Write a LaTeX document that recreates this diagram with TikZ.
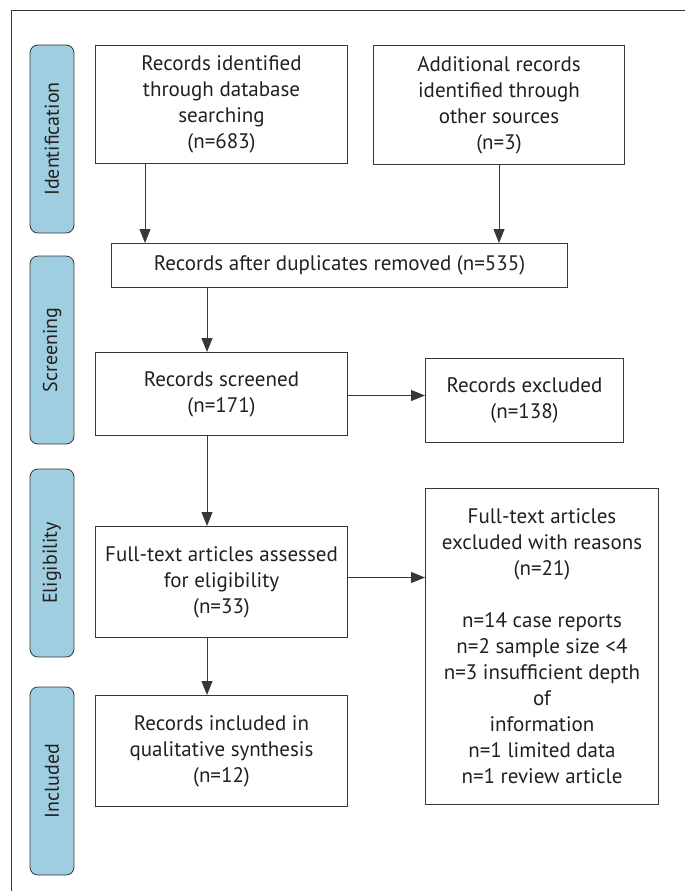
\documentclass[tikz,border=0pt]{standalone}
\usepackage{fontspec}
\setmainfont{PT Sans}
\usetikzlibrary{arrows.meta}
\definecolor{phaseblue}{RGB}{158,206,224}
\definecolor{ink}{RGB}{35,31,32}
\definecolor{edge}{RGB}{55,55,55}

\begin{document}
\begin{tikzpicture}[x=1pt,y=-1pt,
  font=\fontsize{21}{26}\selectfont,text=ink,
  box/.style={draw=edge,line width=1pt,align=center,inner sep=0pt,anchor=north west},
  phase/.style={draw=edge,fill=phaseblue,rounded corners=8pt,line width=0.8pt,rotate=90,inner sep=0pt,minimum height=44pt,font=\fontsize{20}{26}\selectfont},
  flow/.style={draw=edge,line width=1pt,-{Triangle[length=14pt,width=11pt]}}]
\useasboundingbox (0,0) rectangle (685,891);
% frame
\draw[edge,line width=1pt] (11,891) -- (11,11) -- (685,11);
% phases
\node[phase,minimum width=188pt] (pident) at (52,139) {Identification};
\node[phase,minimum width=188pt] (pscreen) at (52,350) {Screening};
\node[phase,minimum width=188pt] (pelig) at (52,563) {Eligibility};
\node[phase,minimum width=188pt] (pincl) at (52,781) {Included};
% boxes
\node[box,minimum width=252pt,minimum height=118pt] (recdb) at (95,45) {Records identified\\through database\\searching\\(n=683)};
\node[box,minimum width=251pt,minimum height=119pt] (recother) at (373,45) {Additional records\\identified through\\other sources\\(n=3)};
\node[box,minimum width=456pt,minimum height=44pt] (dedup) at (111,243) {Records after duplicates removed (n=535)};
\node[box,minimum width=252pt,minimum height=83pt] (screened) at (95,352) {Records screened\\(n=171)};
\node[box,minimum width=198pt,minimum height=84pt] (excluded) at (425,358) {Records excluded\\(n=138)};
\node[box,minimum width=252pt,minimum height=111pt] (fulltext) at (95,526) {Full-text articles assessed\\for eligibility\\(n=33)};
\node[box,minimum width=233pt,minimum height=316pt] (ftexcl) at (425,488) {Full-text articles\\excluded with reasons\\(n=21)\\[26pt]n=14 case reports\\n=2 sample size <4\\n=3 insufficient depth\\of\\information\\n=1 limited data\\n=1 review article};
\node[box,minimum width=252pt,minimum height=111pt] (included) at (95,695) {Records included in\\qualitative synthesis\\(n=12)};
% arrows
\coordinate (leftdrop) at (145,0);
\coordinate (spine) at (207,0);
\draw[flow] (recdb.south -| leftdrop) -- (dedup.north -| leftdrop);
\draw[flow] (recother.south) -- (recother.south |- dedup.north);
\draw[flow] (dedup.south -| spine) -- (screened.north -| spine);
\draw[flow] ([yshift=-1.5pt]screened.east) -- ([yshift=-1.5pt]screened.east -| excluded.west);
\draw[flow] (screened.south -| spine) -- (fulltext.north -| spine);
\draw[flow] ([yshift=4.5pt]fulltext.east) -- ([yshift=4.5pt]fulltext.east -| ftexcl.west);
\draw[flow] (fulltext.south -| spine) -- (included.north -| spine);
\end{tikzpicture}
\end{document}
